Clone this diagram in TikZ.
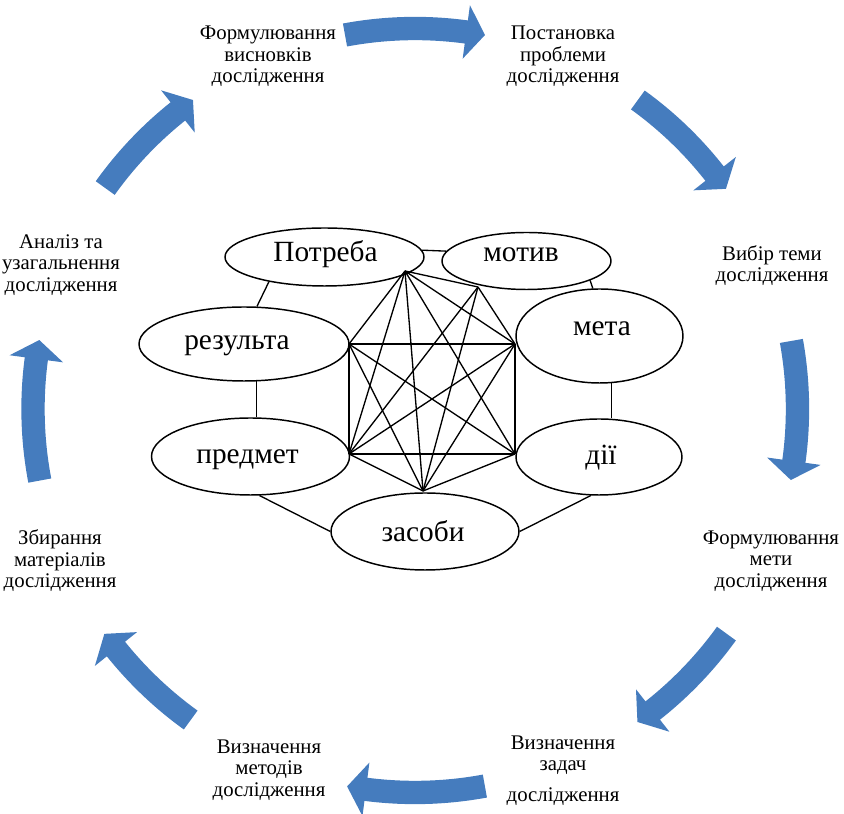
\documentclass[tikz,border=0pt]{standalone}
\usepackage{fontspec}
\setmainfont{Liberation Serif}
\usetikzlibrary{shapes.geometric}
\definecolor{arrowblue}{RGB}{69,124,190}
\newdimen\pxunit
\pxunit=0.75pt
\begin{document}
\begin{tikzpicture}[x=0.75pt,y=0.75pt,
  oval/.style={ellipse, draw, fill=white, line width=1.1pt, inner sep=0pt},
  word/.style={inner sep=0pt, font=\fontsize{22pt}{26pt}\selectfont},
  stage/.style={inner sep=0pt, align=center, font=\fontsize{15.6pt}{16.1pt}\selectfont},
  link/.style={line width=1pt},
  band/.style={draw=arrowblue, line width=17.5pt},
  head/.style={fill=arrowblue}]
\useasboundingbox (0,0) rectangle (844,814);

% stages of the research cycle
\node[stage] (s1) at (268,757.5) {Формулювання\\висновків\\дослідження};
\node[stage] (s2) at (563,757.5) {Постановка\\проблеми\\дослідження};
\node[stage] (s3) at (772,548.5) {Вибір теми\\дослідження};
\node[stage] (s4) at (771,253) {Формулювання\\мети\\дослідження};
\node[stage] (s5) at (563,43.5) {Визначення\\задач\\[9\pxunit]дослідження};
\node[stage] (s6) at (269,44) {Визначення\\методів\\дослідження};
\node[stage] (s7) at (60,253) {Збирання\\матеріалів\\дослідження};
\node[stage] (s8) at (61,549) {Аналіз та\\узагальнення\\дослідження};

% curved block arrows around the cycle (clockwise)
\coordinate (O) at (415,405);
\foreach \ta/\tb/\rad in {100.6/79.4/380.5, 54.2/35.3/381, 10.25/-10.7/382.5,
    -35.8/-54.6/384, -79.5/-100.2/383.5, -125.8/-144.1/383.5,
    190.8/169.6/382, 144.5/125.7/380.5}{
  \pgfmathsetmacro{\headang}{\tb+2.85}
  \pgfmathsetmacro{\bandend}{\tb+2.5}
  \pgfmathsetmacro{\rin}{\rad-27}
  \pgfmathsetmacro{\rout}{\rad+27}
  \draw[band] ([shift={(\ta:\rad)}]O) arc[start angle=\ta, end angle=\bandend, radius=\rad];
  \fill[head] ([shift={(\headang:\rin)}]O) -- ([shift={(\headang:\rout)}]O)
    -- ([shift={(\tb:\rad)}]O) -- cycle;
}

% components of the activity
\node[oval, minimum width=199\pxunit, minimum height=58\pxunit] (potreba) at (324.5,557) {};
\node[oval, minimum width=169\pxunit, minimum height=57\pxunit] (motiv) at (526.5,553) {};
\node[oval, minimum width=210\pxunit, minimum height=74\pxunit] (rez) at (244,470) {};
\node[oval, minimum width=167\pxunit, minimum height=94\pxunit] (meta) at (599.5,478) {};
\node[oval, minimum width=198\pxunit, minimum height=77\pxunit] (predmet) at (250.5,357.5) {};
\node[oval, minimum width=166\pxunit, minimum height=76\pxunit] (dii) at (599,357) {};
\node[oval, minimum width=188\pxunit, minimum height=77\pxunit] (zasoby) at (425,282.5) {};

\node[word] (potreba-t) at (325.5,560) {Потреба};
\node[word] (motiv-t) at (521,559) {мотив};
\node[word] (rez-t) at (237,468.5) {результа};
\node[word] (meta-t) at (602,485) {мета};
\node[word] (predmet-t) at (247.5,354.5) {предмет};
\node[word] (dii-t) at (601,356) {дії};
\node[word] (zasoby-t) at (423,282.5) {засоби};

% outer ring of links
\draw[link] (potreba.4) -- (motiv.173);
\draw[link] (potreba.-156) -- (rez.71);
\draw[link] (motiv.-17) -- (meta.98);
\draw[link] (rez.-72) -- (rez.-72 |- predmet.north);
\draw[link] (meta.-76) -- (meta.-76 |- dii.north);
\draw[link] (predmet.-77) -- (zasoby.west);
\draw[link] (zasoby.east) -- (dii.-102);

% inner network
\coordinate (nA) at (405,543);
\coordinate (nB) at (478,527);
\coordinate (nC) at (349,470);
\coordinate (nD) at (515,470);
\coordinate (nE) at (349,360);
\coordinate (nF) at (515,360);
\coordinate (nG) at (423,323);
\foreach \ea/\eb in {A/B,A/C,A/D,A/E,A/F,A/G,B/D,B/E,B/G,C/D,C/E,C/F,C/G,
    D/E,D/F,D/G,E/F,E/G,F/G}
  \draw[link] (n\ea) -- (n\eb);
\end{tikzpicture}
\end{document}
